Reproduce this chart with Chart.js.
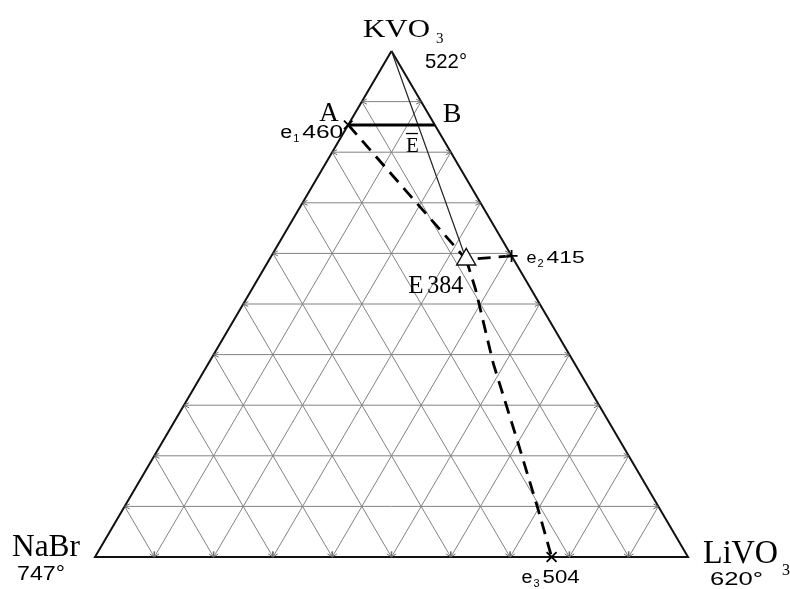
<!DOCTYPE html>
<html>
<head>
<meta charset="utf-8">
<script src="https://cdn.jsdelivr.net/npm/chart.js@4.4.0/dist/chart.umd.min.js"></script>
<style>
  html, body { margin: 0; padding: 0; background: #fff; }
  #wrap { width: 790px; height: 589px; }
</style>
</head>
<body>
<div id="wrap"><canvas id="ternary"></canvas></div>
<script>
// NaBr - KVO3 - LiVO3 : liquidus projection
const vertexTemps = [522, 747, 620];   // KVO3, NaBr, LiVO3

// invariant points, mol % KVO3 and LiVO3 (NaBr makes up the rest)
const pointNames = ['e1', 'e2', 'e3', 'E'];
const pointTemps = [460, 415, 504, 384];
const pointKVO3 = [85.4, 59.5, 0, 58.8];
const pointLiVO3 = [0, 40.5, 77, 33.2];

// monovariant curves running into E
const curveE1KVO3 = [85.4, 64.0, 58.8];
const curveE1LiVO3 = [0, 26.7, 33.2];
const curveE2KVO3 = [59.5, 58.8];
const curveE2LiVO3 = [40.5, 33.2];
const curveE3KVO3 = [58.8, 52.8, 38.3, 22.5, 9.3, 0];
const curveE3LiVO3 = [33.2, 37.8, 48.0, 60.1, 70.1, 77];

// section A-B and the ray from KVO3 through E-bar to E
const sectionKVO3 = [85.4, 85.4];
const sectionLiVO3 = [0, 14.6];
const rayKVO3 = [100, 58.8];
const rayLiVO3 = [0, 33.2];

const gridStep = 10;

function toXY(k, li) {
    return { x: (li + k / 2) / 100, y: k / 100 };
}
function path(kArr, liArr) {
    return kArr.map((k, i) => toXY(k, liArr[i]));
}

const datasets = [];

// E marker on top of everything
datasets.push({
    data: [toXY(pointKVO3[3], pointLiVO3[3])],
    pointStyle: 'triangle', pointRadius: 11,
    pointBackgroundColor: '#fff', pointBorderColor: '#111', pointBorderWidth: 1.4,
    showLine: false, order: 0
});
// binary eutectics
datasets.push({
    data: path(pointKVO3.slice(0, 3), pointLiVO3.slice(0, 3)),
    pointStyle: ['crossRot', 'cross', 'crossRot'], pointRadius: [6, 6, 7],
    pointBorderColor: '#000', pointBorderWidth: 1.8,
    showLine: false, order: 1
});

const dashed = { borderColor: '#000', borderWidth: 2.8, borderDash: [13, 8], pointRadius: 0, showLine: true, order: 2 };
datasets.push(Object.assign({ data: path(curveE1KVO3, curveE1LiVO3) }, dashed));
datasets.push(Object.assign({ data: path(curveE2KVO3, curveE2LiVO3) }, dashed));
datasets.push(Object.assign({ data: path(curveE3KVO3, curveE3LiVO3) }, dashed));

datasets.push({ data: path(sectionKVO3, sectionLiVO3), borderColor: '#000', borderWidth: 3, pointRadius: 0, showLine: true, order: 3 });
datasets.push({ data: path(rayKVO3, rayLiVO3), borderColor: '#222', borderWidth: 1.2, pointRadius: 0, showLine: true, order: 3 });

// triangle sides
datasets.push({
    data: path([100, 0, 0, 100], [0, 0, 100, 0]),
    borderColor: '#111', borderWidth: 2, pointRadius: 0, showLine: true, order: 4
});

// composition grid every 10 %
const grid = { borderColor: '#828282', borderWidth: 1, pointRadius: 0, showLine: true, order: 5 };
for (let v = gridStep; v < 100; v += gridStep) {
    // constant KVO3
    datasets.push(Object.assign({ data: path([v, v], [0, 100 - v]), arrows: 'both' }, grid));
    // constant LiVO3
    datasets.push(Object.assign({ data: path([0, 100 - v], [v, v]), arrows: 'start' }, grid));
    // constant NaBr
    datasets.push(Object.assign({ data: path([0, 100 - v], [100 - v, 0]), arrows: 'start' }, grid));
}

function arrowHead(ctx, tip, from) {
    const dx = tip.x - from.x, dy = tip.y - from.y;
    const len = Math.hypot(dx, dy);
    const ux = dx / len, uy = dy / len;
    const l = 5, w = 2.5;
    ctx.beginPath();
    ctx.moveTo(tip.x - ux * l - uy * w, tip.y - uy * l + ux * w);
    ctx.lineTo(tip.x, tip.y);
    ctx.lineTo(tip.x - ux * l + uy * w, tip.y - uy * l - ux * w);
    ctx.stroke();
}

const gridArrows = {
    id: 'gridArrows',
    afterDatasetsDraw(chart) {
        const ctx = chart.ctx;
        ctx.save();
        ctx.strokeStyle = '#666';
        ctx.lineWidth = 1;
        chart.data.datasets.forEach((ds, i) => {
            if (!ds.arrows) return;
            const pts = chart.getDatasetMeta(i).data;
            arrowHead(ctx, pts[0], pts[1]);
            if (ds.arrows === 'both') arrowHead(ctx, pts[1], pts[0]);
        });
        ctx.restore();
    }
};

const SERIF = '"Liberation Serif", "DejaVu Serif", serif';
const SANS = '"Liberation Sans", Arial, sans-serif';

function text(ctx, str, x, y, size, family, width) {
    ctx.save();
    ctx.font = size + 'px ' + family;
    ctx.translate(x, y);
    if (width) ctx.scale(width / ctx.measureText(str).width, 1);
    ctx.fillText(str, 0, 0);
    ctx.restore();
}

const labels = {
    id: 'labels',
    afterDraw(chart) {
        const ctx = chart.ctx;
        const sx = chart.scales.x, sy = chart.scales.y;
        const px = (k, li) => {
            const p = toXY(k, li);
            return { x: sx.getPixelForValue(p.x), y: sy.getPixelForValue(p.y) };
        };
        ctx.save();
        ctx.fillStyle = '#000';
        ctx.textBaseline = 'alphabetic';

        // vertices
        const top = px(100, 0), left = px(0, 0), right = px(0, 100);
        text(ctx, 'KVO', top.x - 28.5, top.y - 14, 26, SERIF, 67);
        text(ctx, '3', top.x + 44.5, top.y - 8, 15, SERIF);
        text(ctx, vertexTemps[0] + '°', top.x + 33.5, top.y + 17, 21, SANS, 42);
        text(ctx, 'NaBr', left.x - 83, left.y - 1, 32, SERIF, 68);
        text(ctx, vertexTemps[1] + '°', left.x - 78, left.y + 23, 21, SANS, 48);
        text(ctx, 'LiVO', right.x + 15, right.y + 6, 34, SERIF, 75);
        text(ctx, '3', right.x + 94, right.y + 18, 16, SERIF);
        text(ctx, vertexTemps[2] + '°', right.x + 22, right.y + 28, 18, SANS, 53);

        // section ends
        const a = px(sectionKVO3[0], sectionLiVO3[0]);
        const b = px(sectionKVO3[1], sectionLiVO3[1]);
        text(ctx, 'A', a.x - 29, a.y - 4, 27, SERIF);
        text(ctx, 'B', b.x + 8, b.y - 3, 28, SERIF);

        // E-bar where the ray crosses A-B
        const t = (rayKVO3[0] - sectionKVO3[0]) / (rayKVO3[0] - rayKVO3[1]);
        const eb = px(sectionKVO3[0], rayLiVO3[0] + t * (rayLiVO3[1] - rayLiVO3[0]));
        text(ctx, 'E', eb.x - 12, eb.y + 27, 21, SERIF);
        ctx.fillRect(eb.x - 12, eb.y + 8, 12, 1.3);

        // invariant points
        const subLabel = (p, name, temp, o) => {
            text(ctx, name[0], p.x + o.dx, p.y + o.dy, o.size, SANS, o.ew);
            text(ctx, name.slice(1), p.x + o.dx + o.ew + 1, p.y + o.dy + 4, 11, SANS);
            text(ctx, String(temp), p.x + o.dx + o.ew + 10, p.y + o.dy, o.size, SANS, o.tw);
        };
        const e1 = px(pointKVO3[0], pointLiVO3[0]);
        const e2 = px(pointKVO3[1], pointLiVO3[1]);
        const e3 = px(pointKVO3[2], pointLiVO3[2]);
        const E = px(pointKVO3[3], pointLiVO3[3]);
        subLabel(e1, pointNames[0], pointTemps[0], { dx: -68, dy: 13, size: 18, ew: 12, tw: 41 });
        subLabel(e2, pointNames[1], pointTemps[1], { dx: 15, dy: 7, size: 17, ew: 10, tw: 38 });
        subLabel(e3, pointNames[2], pointTemps[2], { dx: -30, dy: 26, size: 18, ew: 11, tw: 37 });
        text(ctx, pointNames[3], E.x - 58, E.y + 34, 25, SERIF);
        text(ctx, String(pointTemps[3]), E.x - 39, E.y + 34, 25, SERIF, 36);
        ctx.restore();
    }
};

new Chart(document.getElementById('ternary'), {
    type: 'scatter',
    data: { datasets: datasets },
    options: {
        responsive: true,
        maintainAspectRatio: false,
        animation: false,
        devicePixelRatio: 1,
        layout: { padding: { left: 95, right: 102, top: 51, bottom: 32 } },
        elements: { line: { tension: 0 } },
        datasets: { scatter: { clip: false } },
        scales: {
            x: { type: 'linear', min: 0, max: 1, display: false },
            y: { type: 'linear', min: 0, max: 1, display: false }
        },
        plugins: {
            legend: { display: false },
            tooltip: { enabled: false }
        }
    },
    plugins: [gridArrows, labels]
});
</script>
</body>
</html>
